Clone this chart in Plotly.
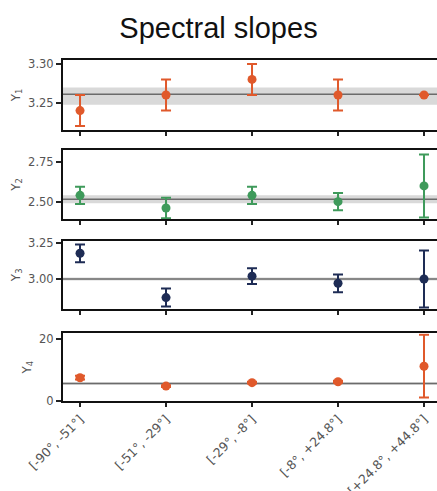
import plotly.graph_objects as go

categories = ["[-90°, -51°]", "[-51°, -29°]", "[-29°, -8°]", "[-8°, +24.8°]", "[+24.8°, +44.8°]"]

y1_vals = [3.24, 3.26, 3.28, 3.26, 3.26]
y1_err = [0.02, 0.02, 0.02, 0.02, 0.0]
y2_vals = [2.54, 2.46, 2.54, 2.50, 2.60]
y2_err = [0.055, 0.065, 0.055, 0.055, 0.20]
y3_vals = [3.18, 2.87, 3.02, 2.97, 3.00]
y3_err = [0.062, 0.063, 0.055, 0.062, 0.20]
y4_vals = [7.5, 4.8, 5.9, 6.2, 11.2]
y4_err = [0.6, 0.3, 0.3, 0.3, 10.1]

ref_mean = [3.261, 2.515, 3.00, 5.6]
ref_low = [3.2475, 2.49, 2.99, 5.2]
ref_high = [3.2695, 2.54, 3.01, 6.0]

y_ranges = [[3.215, 3.305], [2.39, 2.828], [2.79, 3.268], [0, 21.8]]
y_ticks = [[3.25, 3.30], [2.50, 2.75], [3.00, 3.25], [0, 20]]
y_ticktext = [["3.25", "3.30"], ["2.50", "2.75"], ["3.00", "3.25"], ["0", "20"]]
y_titles = ["Y<sub>1</sub>", "Y<sub>2</sub>", "Y<sub>3</sub>", "Y<sub>4</sub>"]

series = [(y1_vals, y1_err), (y2_vals, y2_err), (y3_vals, y3_err), (y4_vals, y4_err)]
colors = ["#E0592B", "#3F9A5B", "#1E2C55", "#E0592B"]

W, H = 437, 491
panel_px = [(60, 130), (150, 219), (240.7, 309), (333.3, 401)]
x_left = 63

ytick_font = dict(family="DejaVu Sans", size=11.5, color="#555")
xtick_font = dict(family="DejaVu Sans", size=12.5, color="#555")

fig = go.Figure()
xs = list(range(len(categories)))

for i, ((vals, err), col) in enumerate(zip(series, colors)):
    n = "" if i == 0 else str(i + 1)
    fig.add_trace(go.Scatter(
        x=xs, y=vals, mode="markers",
        marker=dict(color=col, size=9),
        error_y=dict(type="data", array=err, color=col, thickness=2, width=5),
        xaxis="x" + n, yaxis="y" + n, showlegend=False,
    ))
    top, bot = panel_px[i]
    dom_y = [1 - bot / H, 1 - top / H]
    fig.layout["xaxis" + n] = dict(
        domain=[x_left / W, 1], range=[-0.198, 4.151], anchor="y" + n,
        tickvals=xs, ticktext=categories, showticklabels=(i == 3),
        tickangle=-45, ticks="outside", ticklen=4, tickwidth=1.5, tickcolor="#222",
        showline=True, linecolor="#111", linewidth=2, mirror=True,
        showgrid=False, zeroline=False, automargin=False,
        tickfont=xtick_font,
    )
    fig.layout["yaxis" + n] = dict(
        domain=dom_y, range=y_ranges[i], anchor="x" + n,
        tickvals=y_ticks[i], ticktext=y_ticktext[i],
        ticks="outside", ticklen=5, tickwidth=1.5, tickcolor="#222",
        showline=True, linecolor="#111", linewidth=2, mirror=False,
        showgrid=False, zeroline=False, automargin=False,
        tickfont=ytick_font,
        title=dict(text=y_titles[i], standoff=5,
                   font=dict(family="DejaVu Sans", size=12, color="#555")),
    )
    fig.add_shape(type="rect", xref="x" + n + " domain", yref="y" + n,
                  x0=0, x1=1, y0=ref_low[i], y1=ref_high[i],
                  fillcolor="#d9d9d9", line=dict(width=0), layer="below")
    fig.add_shape(type="line", xref="x" + n + " domain", yref="y" + n,
                  x0=0, x1=1, y0=ref_mean[i], y1=ref_mean[i],
                  line=dict(color="#6b6b6b", width=1.5), layer="below")

fig.update_layout(
    width=W, height=H,
    margin=dict(l=0, r=0, t=0, b=0),
    paper_bgcolor="white", plot_bgcolor="white",
    title=dict(text="Spectral slopes", x=0.5, xanchor="center", y=1 - 28 / H, yanchor="middle",
               font=dict(family="Liberation Sans", size=29, color="#111")),
)

fig.write_html("out.html", config={"displayModeBar": False},
               post_script="document.body.style.margin='0';document.body.style.overflow='hidden';")
